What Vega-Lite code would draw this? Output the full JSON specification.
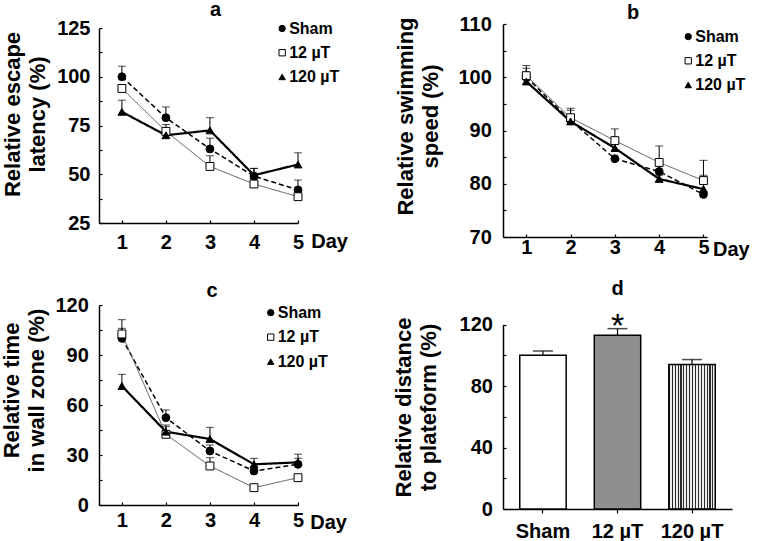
{
  "$schema": "https://vega.github.io/schema/vega-lite/v6.json",
  "padding": 0,
  "background": "white",
  "config": {
    "view": {"stroke": null},
    "font": "Liberation Sans",
    "axis": {
      "labelFont": "Liberation Sans", "labelFontWeight": "bold", "labelFontSize": 20, "labelColor": "black",
      "titleFont": "Liberation Sans", "titleFontWeight": "bold", "titleFontSize": 22, "titleColor": "black",
      "domainColor": "black", "domainWidth": 1.5, "tickColor": "black", "tickWidth": 1.2, "grid": false,
      "labelFlush": false
    },
    "title": {"font": "Liberation Sans", "fontSize": 20, "fontWeight": "bold", "color": "black", "anchor": "middle"}
  },
  "datasets": {
    "a": [
      {"day": 1, "group": "Sham", "value": 100, "upper": 105.4},
      {"day": 2, "group": "Sham", "value": 79, "upper": 84.5},
      {"day": 3, "group": "Sham", "value": 63, "upper": 68.5},
      {"day": 4, "group": "Sham", "value": 49, "upper": 53},
      {"day": 5, "group": "Sham", "value": 42, "upper": 47},
      {"day": 1, "group": "12 µT", "value": 94, "upper": 96},
      {"day": 2, "group": "12 µT", "value": 72, "upper": 75.5},
      {"day": 3, "group": "12 µT", "value": 54, "upper": 59.5},
      {"day": 4, "group": "12 µT", "value": 45, "upper": 46},
      {"day": 5, "group": "12 µT", "value": 38.5, "upper": 39.5},
      {"day": 1, "group": "120 µT", "value": 82, "upper": 88},
      {"day": 2, "group": "120 µT", "value": 70, "upper": 72},
      {"day": 3, "group": "120 µT", "value": 72.5, "upper": 79},
      {"day": 4, "group": "120 µT", "value": 49.5, "upper": 53},
      {"day": 5, "group": "120 µT", "value": 55, "upper": 61}
    ],
    "b": [
      {"day": 1, "group": "Sham", "value": 100, "upper": 101.7},
      {"day": 2, "group": "Sham", "value": 91.9, "upper": 93.8},
      {"day": 3, "group": "Sham", "value": 84.7, "upper": 84.7},
      {"day": 4, "group": "Sham", "value": 82.3, "upper": 83.5},
      {"day": 5, "group": "Sham", "value": 78, "upper": 78.5},
      {"day": 1, "group": "12 µT", "value": 100.3, "upper": 102.2},
      {"day": 2, "group": "12 µT", "value": 92.4, "upper": 94.2},
      {"day": 3, "group": "12 µT", "value": 88.1, "upper": 90.3},
      {"day": 4, "group": "12 µT", "value": 84, "upper": 87.1},
      {"day": 5, "group": "12 µT", "value": 80.6, "upper": 84.4},
      {"day": 1, "group": "120 µT", "value": 99.2, "upper": 100.5},
      {"day": 2, "group": "120 µT", "value": 91.7, "upper": 93},
      {"day": 3, "group": "120 µT", "value": 86.7, "upper": 87.5},
      {"day": 4, "group": "120 µT", "value": 80.9, "upper": 81.6},
      {"day": 5, "group": "120 µT", "value": 79, "upper": 81.6}
    ],
    "c": [
      {"day": 1, "group": "Sham", "value": 100, "upper": 106},
      {"day": 2, "group": "Sham", "value": 52.4, "upper": 57},
      {"day": 3, "group": "Sham", "value": 32.4, "upper": 36},
      {"day": 4, "group": "Sham", "value": 20.4, "upper": 23},
      {"day": 5, "group": "Sham", "value": 24.4, "upper": 28},
      {"day": 1, "group": "12 µT", "value": 102.6, "upper": 111.2},
      {"day": 2, "group": "12 µT", "value": 42.4, "upper": 47},
      {"day": 3, "group": "12 µT", "value": 23.4, "upper": 28.4},
      {"day": 4, "group": "12 µT", "value": 10.4, "upper": 11},
      {"day": 5, "group": "12 µT", "value": 16.4, "upper": 17},
      {"day": 1, "group": "120 µT", "value": 71.4, "upper": 78.4},
      {"day": 2, "group": "120 µT", "value": 44, "upper": 48},
      {"day": 3, "group": "120 µT", "value": 39.6, "upper": 46.6},
      {"day": 4, "group": "120 µT", "value": 24.4, "upper": 28},
      {"day": 5, "group": "120 µT", "value": 25.6, "upper": 30.5}
    ],
    "d": [
      {"group": "Sham", "value": 100, "upper": 102.8, "sig": ""},
      {"group": "12 µT", "value": 113, "upper": 117.3, "sig": "*"},
      {"group": "120 µT", "value": 94, "upper": 97.2, "sig": ""}
    ]
  },
  "resolve": {
    "scale": {"fill": "independent", "shape": "independent", "stroke": "independent", "strokeDash": "independent", "strokeWidth": "independent"}
  },
  "spacing": 19,
  "vconcat": [
    {
      "spacing": 46,
      "resolve": {
        "scale": {"fill": "independent", "shape": "independent", "stroke": "independent", "strokeDash": "independent", "strokeWidth": "independent"}
      },
      "hconcat": [
        {
          "width": 199, "height": 199,
          "title": {"text": "a", "offset": -2, "dx": 17},
          "data": {"name": "a"},
          "resolve": {"scale": {"y": "independent"}},
          "encoding": {
            "x": {"field": "day", "type": "quantitative", "scale": {"domain": [0.48, 5], "nice": false, "zero": false},
              "axis": {"values": [1, 2, 3, 4, 5], "format": "d", "tickSize": -3, "labelPadding": 12, "title": "Day", "titleX": 211.7, "titleY": 24, "titleAlign": "left", "titleBaseline": "alphabetic", "titleFontSize": 20}},
            "y": {"field": "value", "type": "quantitative", "scale": {"domain": [25, 125], "range": [199, 4], "nice": false, "zero": false}, "axis": null}
          },
          "layer": [
            {
              "mark": {"type": "rule", "color": "black", "strokeWidth": 1},
              "encoding": {
                "y": {"field": "value", "type": "quantitative", "scale": {"domain": [25, 125], "range": [199, 4], "nice": false, "zero": false},
                  "axis": {"values": [25, 37.5, 50, 62.5, 75, 87.5, 100, 112.5, 125], "labelExpr": "datum.value % 25 === 0 ? datum.label : ''", "tickSize": -3, "labelPadding": 12, "title": ["Relative escape", "latency (%)"], "titleLineHeight": 25, "titlePadding": 7, "titleY": 90}},
                "y2": {"field": "upper"}
              }
            },
            {
              "mark": {"type": "tick", "orient": "horizontal", "size": 8, "thickness": 1, "color": "black"},
              "encoding": {"y": {"field": "upper", "type": "quantitative", "scale": {"domain": [25, 125], "range": [199, 4], "nice": false, "zero": false}, "axis": null}}
            },
            {
              "mark": {"type": "line"},
              "encoding": {
                "stroke": {"field": "group", "type": "nominal", "scale": {"domain": ["Sham", "12 µT", "120 µT"], "range": ["#000000", "#555555", "#000000"]}, "legend": null},
                "strokeDash": {"field": "group", "type": "nominal", "scale": {"domain": ["Sham", "12 µT", "120 µT"], "range": [[5, 3], [1, 0], [1, 0]]}, "legend": null},
                "strokeWidth": {"field": "group", "type": "nominal", "scale": {"type": "ordinal", "domain": ["Sham", "12 µT", "120 µT"], "range": [1.5, 1, 2.2]}, "legend": null}
              }
            },
            {
              "mark": {"type": "point", "size": 62, "stroke": "black", "strokeWidth": 1, "opacity": 1},
              "encoding": {
                "shape": {"field": "group", "type": "nominal", "scale": {"domain": ["Sham", "12 µT", "120 µT"], "range": ["circle", "square", "triangle-up"]}, "legend": null},
                "fill": {"field": "group", "type": "nominal", "scale": {"domain": ["Sham", "12 µT", "120 µT"], "range": ["black", "white", "black"]}, "legend": null}
              }
            },
            {
              "transform": [{"filter": "datum.day === 1"}],
              "mark": {"type": "point", "size": 40, "stroke": "black", "strokeWidth": 1, "opacity": 1},
              "encoding": {
                "x": {"datum": 4.64, "type": "quantitative"},
                "y": {"field": "group", "type": "nominal", "scale": {"type": "point", "domain": ["Sham", "12 µT", "120 µT", "p1", "p2", "p3", "p4", "p5", "p6"], "padding": 0.11, "align": 0.85}, "axis": null},
                "shape": {"field": "group", "type": "nominal", "scale": {"domain": ["Sham", "12 µT", "120 µT"], "range": ["circle", "square", "triangle-up"]}, "legend": null},
                "fill": {"field": "group", "type": "nominal", "scale": {"domain": ["Sham", "12 µT", "120 µT"], "range": ["black", "white", "black"]}, "legend": null}
              }
            },
            {
              "transform": [{"filter": "datum.day === 1"}],
              "mark": {"type": "text", "align": "left", "baseline": "middle", "dx": 7, "fontSize": 16, "fontWeight": "bold", "font": "Liberation Sans", "color": "black"},
              "encoding": {
                "x": {"datum": 4.64, "type": "quantitative"},
                "y": {"field": "group", "type": "nominal", "scale": {"type": "point", "domain": ["Sham", "12 µT", "120 µT", "p1", "p2", "p3", "p4", "p5", "p6"], "padding": 0.11, "align": 0.85}, "axis": null},
                "text": {"field": "group"}
              }
            }
          ]
        },
        {
          "width": 204, "height": 213,
          "title": {"text": "b", "offset": -8.5, "dx": 28},
          "data": {"name": "b"},
          "resolve": {"scale": {"y": "independent"}},
          "encoding": {
            "x": {"field": "day", "type": "quantitative", "scale": {"domain": [0.474, 5.08], "nice": false, "zero": false},
              "axis": {"values": [1, 2, 3, 4, 5], "format": "d", "tickSize": -3, "labelPadding": 3, "title": "Day", "titleX": 209.5, "titleY": 18.3, "titleAlign": "left", "titleBaseline": "alphabetic", "titleFontSize": 20}},
            "y": {"field": "value", "type": "quantitative", "scale": {"domain": [70, 110], "nice": false, "zero": false}, "axis": null}
          },
          "layer": [
            {
              "mark": {"type": "rule", "color": "black", "strokeWidth": 1},
              "encoding": {
                "y": {"field": "value", "type": "quantitative", "scale": {"domain": [70, 110], "nice": false, "zero": false},
                  "axis": {"values": [70, 75, 80, 85, 90, 95, 100, 105, 110], "labelExpr": "datum.value % 10 === 0 ? datum.label : ''", "tickSize": -3, "labelPadding": 14.7, "title": ["Relative swimming", "speed (%)"], "titleLineHeight": 25, "titlePadding": 15.5, "titleY": 92}},
                "y2": {"field": "upper"}
              }
            },
            {
              "mark": {"type": "tick", "orient": "horizontal", "size": 8, "thickness": 1, "color": "black"},
              "encoding": {"y": {"field": "upper", "type": "quantitative", "scale": {"domain": [70, 110], "nice": false, "zero": false}, "axis": null}}
            },
            {
              "mark": {"type": "line"},
              "encoding": {
                "stroke": {"field": "group", "type": "nominal", "scale": {"domain": ["Sham", "12 µT", "120 µT"], "range": ["#000000", "#555555", "#000000"]}, "legend": null},
                "strokeDash": {"field": "group", "type": "nominal", "scale": {"domain": ["Sham", "12 µT", "120 µT"], "range": [[5, 3], [1, 0], [1, 0]]}, "legend": null},
                "strokeWidth": {"field": "group", "type": "nominal", "scale": {"type": "ordinal", "domain": ["Sham", "12 µT", "120 µT"], "range": [1.5, 1, 2.2]}, "legend": null}
              }
            },
            {
              "mark": {"type": "point", "size": 62, "stroke": "black", "strokeWidth": 1, "opacity": 1},
              "encoding": {
                "shape": {"field": "group", "type": "nominal", "scale": {"domain": ["Sham", "12 µT", "120 µT"], "range": ["circle", "square", "triangle-up"]}, "legend": null},
                "fill": {"field": "group", "type": "nominal", "scale": {"domain": ["Sham", "12 µT", "120 µT"], "range": ["black", "white", "black"]}, "legend": null}
              }
            },
            {
              "transform": [{"filter": "datum.day === 5"}],
              "mark": {"type": "point", "size": 40, "stroke": "black", "strokeWidth": 1, "opacity": 1, "xOffset": -15.2},
              "encoding": {
                "y": {"field": "group", "type": "nominal", "scale": {"type": "point", "domain": ["Sham", "12 µT", "120 µT", "p1", "p2", "p3", "p4", "p5", "p6"], "padding": 0.4, "align": 0.65}, "axis": null},
                "shape": {"field": "group", "type": "nominal", "scale": {"domain": ["Sham", "12 µT", "120 µT"], "range": ["circle", "square", "triangle-up"]}, "legend": null},
                "fill": {"field": "group", "type": "nominal", "scale": {"domain": ["Sham", "12 µT", "120 µT"], "range": ["black", "white", "black"]}, "legend": null}
              }
            },
            {
              "transform": [{"filter": "datum.day === 5"}],
              "mark": {"type": "text", "align": "left", "baseline": "middle", "dx": -8.2, "fontSize": 16, "fontWeight": "bold", "font": "Liberation Sans", "color": "black"},
              "encoding": {
                "y": {"field": "group", "type": "nominal", "scale": {"type": "point", "domain": ["Sham", "12 µT", "120 µT", "p1", "p2", "p3", "p4", "p5", "p6"], "padding": 0.4, "align": 0.65}, "axis": null},
                "text": {"field": "group"}
              }
            }
          ]
        }
      ]
    },
    {
      "spacing": 45,
      "resolve": {
        "scale": {"fill": "independent", "shape": "independent", "stroke": "independent", "strokeDash": "independent", "strokeWidth": "independent"}
      },
      "hconcat": [
        {
          "width": 199, "height": 200,
          "title": {"text": "c", "offset": -5.5, "dx": 13.5},
          "data": {"name": "c"},
          "resolve": {"scale": {"y": "independent"}},
          "encoding": {
            "x": {"field": "day", "type": "quantitative", "scale": {"domain": [0.48, 5], "nice": false, "zero": false},
              "axis": {"values": [1, 2, 3, 4, 5], "format": "d", "tickSize": -3, "labelPadding": 8, "title": "Day", "titleX": 210.7, "titleY": 23.3, "titleAlign": "left", "titleBaseline": "alphabetic", "titleFontSize": 20}},
            "y": {"field": "value", "type": "quantitative", "scale": {"domain": [0, 120], "nice": false, "zero": false}, "axis": null}
          },
          "layer": [
            {
              "mark": {"type": "rule", "color": "black", "strokeWidth": 1},
              "encoding": {
                "y": {"field": "value", "type": "quantitative", "scale": {"domain": [0, 120], "nice": false, "zero": false},
                  "axis": {"values": [0, 15, 30, 45, 60, 75, 90, 105, 120], "labelExpr": "datum.value % 30 === 0 ? datum.label : ''", "tickSize": -3, "labelPadding": 13.7, "title": ["Relative time", "in wall zone (%)"], "titleLineHeight": 25, "titlePadding": 6, "titleY": 85}},
                "y2": {"field": "upper"}
              }
            },
            {
              "mark": {"type": "tick", "orient": "horizontal", "size": 8, "thickness": 1, "color": "black"},
              "encoding": {"y": {"field": "upper", "type": "quantitative", "scale": {"domain": [0, 120], "nice": false, "zero": false}, "axis": null}}
            },
            {
              "mark": {"type": "line"},
              "encoding": {
                "stroke": {"field": "group", "type": "nominal", "scale": {"domain": ["Sham", "12 µT", "120 µT"], "range": ["#000000", "#555555", "#000000"]}, "legend": null},
                "strokeDash": {"field": "group", "type": "nominal", "scale": {"domain": ["Sham", "12 µT", "120 µT"], "range": [[5, 3], [1, 0], [1, 0]]}, "legend": null},
                "strokeWidth": {"field": "group", "type": "nominal", "scale": {"type": "ordinal", "domain": ["Sham", "12 µT", "120 µT"], "range": [1.5, 1, 2.2]}, "legend": null}
              }
            },
            {
              "mark": {"type": "point", "size": 62, "stroke": "black", "strokeWidth": 1, "opacity": 1},
              "encoding": {
                "shape": {"field": "group", "type": "nominal", "scale": {"domain": ["Sham", "12 µT", "120 µT"], "range": ["circle", "square", "triangle-up"]}, "legend": null},
                "fill": {"field": "group", "type": "nominal", "scale": {"domain": ["Sham", "12 µT", "120 µT"], "range": ["black", "white", "black"]}, "legend": null}
              }
            },
            {
              "transform": [{"filter": "datum.day === 1 && datum.group === 'Sham'"}],
              "mark": {"type": "point", "size": 40, "shape": "circle", "fill": "black", "stroke": "black", "strokeWidth": 1, "opacity": 1},
              "encoding": {"x": {"datum": 4.38, "type": "quantitative"}, "y": {"datum": 115.4, "type": "quantitative", "scale": {"domain": [0, 120], "nice": false, "zero": false}, "axis": null}}
            },
            {
              "transform": [{"filter": "datum.day === 1 && datum.group === 'Sham'"}],
              "mark": {"type": "text", "align": "left", "baseline": "middle", "dx": 7, "fontSize": 16, "fontWeight": "bold", "font": "Liberation Sans", "color": "black"},
              "encoding": {"x": {"datum": 4.38, "type": "quantitative"}, "y": {"datum": 115.4, "type": "quantitative", "scale": {"domain": [0, 120], "nice": false, "zero": false}, "axis": null}, "text": {"field": "group"}}
            },
            {
              "transform": [{"filter": "datum.day === 1 && datum.group === '12 µT'"}],
              "mark": {"type": "point", "size": 40, "shape": "square", "fill": "white", "stroke": "black", "strokeWidth": 1, "opacity": 1},
              "encoding": {"x": {"datum": 4.38, "type": "quantitative"}, "y": {"datum": 100.7, "type": "quantitative", "scale": {"domain": [0, 120], "nice": false, "zero": false}, "axis": null}}
            },
            {
              "transform": [{"filter": "datum.day === 1 && datum.group === '12 µT'"}],
              "mark": {"type": "text", "align": "left", "baseline": "middle", "dx": 7, "fontSize": 16, "fontWeight": "bold", "font": "Liberation Sans", "color": "black"},
              "encoding": {"x": {"datum": 4.38, "type": "quantitative"}, "y": {"datum": 100.7, "type": "quantitative", "scale": {"domain": [0, 120], "nice": false, "zero": false}, "axis": null}, "text": {"field": "group"}}
            },
            {
              "transform": [{"filter": "datum.day === 1 && datum.group === '120 µT'"}],
              "mark": {"type": "point", "size": 40, "shape": "triangle-up", "fill": "black", "stroke": "black", "strokeWidth": 1, "opacity": 1},
              "encoding": {"x": {"datum": 4.38, "type": "quantitative"}, "y": {"datum": 86, "type": "quantitative", "scale": {"domain": [0, 120], "nice": false, "zero": false}, "axis": null}}
            },
            {
              "transform": [{"filter": "datum.day === 1 && datum.group === '120 µT'"}],
              "mark": {"type": "text", "align": "left", "baseline": "middle", "dx": 7, "fontSize": 16, "fontWeight": "bold", "font": "Liberation Sans", "color": "black"},
              "encoding": {"x": {"datum": 4.38, "type": "quantitative"}, "y": {"datum": 86, "type": "quantitative", "scale": {"domain": [0, 120], "nice": false, "zero": false}, "axis": null}, "text": {"field": "group"}}
            }
          ]
        },
        {
          "width": 229, "height": 204,
          "title": {"text": "d", "offset": 6, "dx": 0},
          "data": {"name": "d"},
          "resolve": {"scale": {"y": "independent"}},
          "encoding": {
            "x": {"field": "group", "type": "nominal", "sort": ["Sham", "12 µT", "120 µT"],
              "scale": {"domain": ["Sham", "12 µT", "120 µT"], "paddingInner": 0.377, "paddingOuter": 0.225},
              "axis": {"labelAngle": 0, "tickSize": 4, "labelPadding": 8, "title": null}},
            "y": {"field": "value", "type": "quantitative", "scale": {"domain": [0, 120], "range": [204, 19.5], "nice": false}, "axis": null}
          },
          "layer": [
            {
              "transform": [{"filter": "datum.group !== '120 µT'"}],
              "mark": {"type": "bar", "stroke": "black", "strokeWidth": 1.5},
              "encoding": {
                "y": {"field": "value", "type": "quantitative", "scale": {"domain": [0, 120], "range": [204, 19.5], "nice": false},
                  "axis": {"values": [0, 20, 40, 60, 80, 100, 120], "labelExpr": "datum.value % 40 === 0 ? datum.label : ''", "tickSize": -3, "labelPadding": 13.6, "title": ["Relative distance", "to plateform (%)"], "titleLineHeight": 25, "titlePadding": 19, "titleY": 102}},
                "fill": {"field": "group", "type": "nominal", "scale": {"domain": ["Sham", "12 µT", "120 µT"], "range": ["white", "#8f8f8f", "white"]}, "legend": null}
              }
            },
            {
              "transform": [{"filter": "datum.group === '120 µT'"}],
              "mark": {"type": "bar", "stroke": "black", "strokeWidth": 1.5,
                "fill": {"gradient": "linear", "x1": 0, "y1": 0, "x2": 1, "y2": 0, "stops": [
                  {"offset": 0, "color": "#2a2a2a"}, {"offset": 0.025, "color": "#2a2a2a"}, {"offset": 0.025, "color": "#eeeeee"}, {"offset": 0.0625, "color": "#eeeeee"},
                  {"offset": 0.0625, "color": "#2a2a2a"}, {"offset": 0.0875, "color": "#2a2a2a"}, {"offset": 0.0875, "color": "#eeeeee"}, {"offset": 0.125, "color": "#eeeeee"},
                  {"offset": 0.125, "color": "#2a2a2a"}, {"offset": 0.15, "color": "#2a2a2a"}, {"offset": 0.15, "color": "#eeeeee"}, {"offset": 0.1875, "color": "#eeeeee"},
                  {"offset": 0.1875, "color": "#2a2a2a"}, {"offset": 0.2125, "color": "#2a2a2a"}, {"offset": 0.2125, "color": "#eeeeee"}, {"offset": 0.25, "color": "#eeeeee"},
                  {"offset": 0.25, "color": "#2a2a2a"}, {"offset": 0.275, "color": "#2a2a2a"}, {"offset": 0.275, "color": "#eeeeee"}, {"offset": 0.3125, "color": "#eeeeee"},
                  {"offset": 0.3125, "color": "#2a2a2a"}, {"offset": 0.3375, "color": "#2a2a2a"}, {"offset": 0.3375, "color": "#eeeeee"}, {"offset": 0.375, "color": "#eeeeee"},
                  {"offset": 0.375, "color": "#2a2a2a"}, {"offset": 0.4, "color": "#2a2a2a"}, {"offset": 0.4, "color": "#eeeeee"}, {"offset": 0.4375, "color": "#eeeeee"},
                  {"offset": 0.4375, "color": "#2a2a2a"}, {"offset": 0.4625, "color": "#2a2a2a"}, {"offset": 0.4625, "color": "#eeeeee"}, {"offset": 0.5, "color": "#eeeeee"},
                  {"offset": 0.5, "color": "#2a2a2a"}, {"offset": 0.525, "color": "#2a2a2a"}, {"offset": 0.525, "color": "#eeeeee"}, {"offset": 0.5625, "color": "#eeeeee"},
                  {"offset": 0.5625, "color": "#2a2a2a"}, {"offset": 0.5875, "color": "#2a2a2a"}, {"offset": 0.5875, "color": "#eeeeee"}, {"offset": 0.625, "color": "#eeeeee"},
                  {"offset": 0.625, "color": "#2a2a2a"}, {"offset": 0.65, "color": "#2a2a2a"}, {"offset": 0.65, "color": "#eeeeee"}, {"offset": 0.6875, "color": "#eeeeee"},
                  {"offset": 0.6875, "color": "#2a2a2a"}, {"offset": 0.7125, "color": "#2a2a2a"}, {"offset": 0.7125, "color": "#eeeeee"}, {"offset": 0.75, "color": "#eeeeee"},
                  {"offset": 0.75, "color": "#2a2a2a"}, {"offset": 0.775, "color": "#2a2a2a"}, {"offset": 0.775, "color": "#eeeeee"}, {"offset": 0.8125, "color": "#eeeeee"},
                  {"offset": 0.8125, "color": "#2a2a2a"}, {"offset": 0.8375, "color": "#2a2a2a"}, {"offset": 0.8375, "color": "#eeeeee"}, {"offset": 0.875, "color": "#eeeeee"},
                  {"offset": 0.875, "color": "#2a2a2a"}, {"offset": 0.9, "color": "#2a2a2a"}, {"offset": 0.9, "color": "#eeeeee"}, {"offset": 0.9375, "color": "#eeeeee"},
                  {"offset": 0.9375, "color": "#2a2a2a"}, {"offset": 0.9625, "color": "#2a2a2a"}, {"offset": 0.9625, "color": "#eeeeee"}, {"offset": 1, "color": "#eeeeee"}
                ]}},
              "encoding": {"y": {"field": "value", "type": "quantitative", "scale": {"domain": [0, 120], "range": [204, 19.5], "nice": false}, "axis": null}}
            },
            {
              "mark": {"type": "rule", "color": "black", "strokeWidth": 1.2},
              "encoding": {
                "y": {"field": "value", "type": "quantitative", "scale": {"domain": [0, 120], "range": [204, 19.5], "nice": false}, "axis": null},
                "y2": {"field": "upper"}
              }
            },
            {
              "mark": {"type": "tick", "orient": "horizontal", "size": 20, "thickness": 1.5, "color": "black"},
              "encoding": {"y": {"field": "upper", "type": "quantitative", "scale": {"domain": [0, 120], "range": [204, 19.5], "nice": false}, "axis": null}}
            },
            {
              "mark": {"type": "text", "fontSize": 34, "font": "Liberation Sans", "fontWeight": "normal", "baseline": "alphabetic", "align": "center", "dy": 8, "color": "black"},
              "encoding": {
                "y": {"field": "upper", "type": "quantitative", "scale": {"domain": [0, 120], "range": [204, 19.5], "nice": false}, "axis": null},
                "text": {"field": "sig"}
              }
            }
          ]
        }
      ]
    }
  ]
}
